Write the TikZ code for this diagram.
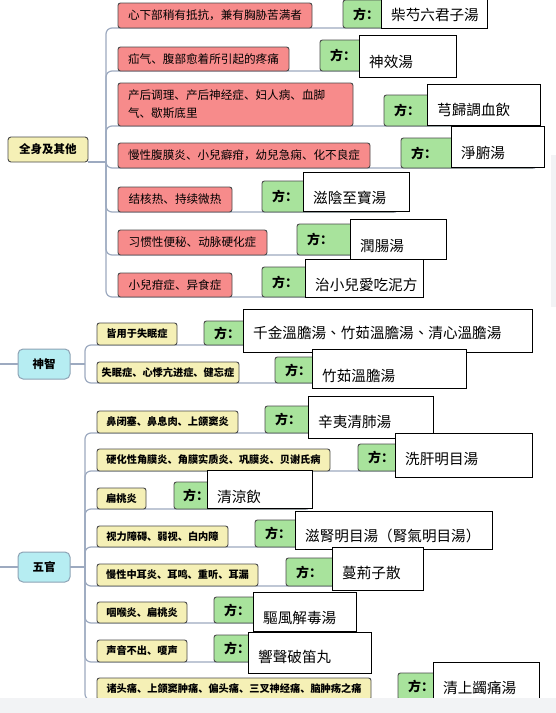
\documentclass[tikz,border=0pt]{standalone}
\usepackage{fontspec}
\setmainfont{Noto Sans CJK SC}
\newfontfamily\tcfont{Noto Sans CJK TC}
\definecolor{redfill}{HTML}{F78B8B}
\definecolor{yelfill}{HTML}{F5F0B6}
\definecolor{grnfill}{HTML}{A8E39C}
\definecolor{cyanfill}{HTML}{B6EDF2}
\definecolor{boxline}{HTML}{4A4A4A}
\definecolor{branchline}{HTML}{9DAAC0}
\definecolor{cyanline}{HTML}{8EA3B5}
\definecolor{stripgrey}{HTML}{F2F3F5}
\pgfdeclarelayer{background}
\pgfsetlayers{background,main}
\tikzset{
  basebox/.style={anchor=north west, inner sep=0pt, outer sep=0pt, line width=0.9pt},
  redbox/.style={basebox, draw=boxline, fill=redfill, rounded corners=2.5pt, font=\fontsize{11.6}{14}\selectfont},
  yelbox/.style={basebox, draw=boxline, fill=yelfill, rounded corners=2.5pt, font=\bfseries\fontsize{10.2}{12}\selectfont},
  fangbox/.style={basebox, draw=boxline, fill=grnfill, rounded corners=2.5pt, minimum width=134pt},
  fangtext/.style={anchor=west, inner sep=0pt, xshift=10pt, font=\bfseries\fontsize{13}{15}\selectfont},
  whitebox/.style={basebox, draw=black, fill=white},
  whitetext/.style={anchor=west, inner sep=0pt, font=\tcfont\fontsize{14.6}{16}\selectfont},
  rootyel/.style={basebox, draw=boxline, fill=yelfill, rounded corners=3pt, font=\bfseries\fontsize{11.5}{14}\selectfont},
  rootcyan/.style={basebox, draw=cyanline, fill=cyanfill, rounded corners=5pt, line width=1pt, font=\bfseries\fontsize{11.5}{14}\selectfont},
  branch/.style={draw=branchline, line width=1.2pt, rounded corners=6pt},
}
\begin{document}
\begin{tikzpicture}[x=1pt,y=-1pt]
\useasboundingbox (0,0) rectangle (556,713);
\clip (0,0) rectangle (556,713);
\begin{pgfonlayer}{background}
\fill[white] (0,0) rectangle (556,713);
\end{pgfonlayer}

% ===== 全身及其他 =====
\node[rootyel, minimum width=80pt, minimum height=25pt] (qs) at (8,137) {全身及其他};
\coordinate (jq) at (106,162);
\draw[branch] (qs.south east) -- (jq);

% row 1
\node[redbox, minimum width=194pt, minimum height=25pt] (q1r) at (118,3) {心下部稍有抵抗，兼有胸胁苦满者};
\node[fangbox, minimum height=28pt] (q1g) at (343,0) {};
\node[fangtext] (q1f) at (q1g.west) {方：};
\node[whitebox, minimum width=106pt, minimum height=30pt] (q1w) at (381,-2) {};
\node[whitetext] (q1t) at (391,15) {柴芍六君子湯};

% row 2
\node[redbox, minimum width=171pt, minimum height=24pt] (q2r) at (118,47) {疝气、腹部愈着所引起的疼痛};
\node[fangbox, minimum height=31pt] (q2g) at (320,40) {};
\node[fangtext] (q2f) at (q2g.west) {方：};
\node[whitebox, minimum width=97pt, minimum height=42pt] (q2w) at (359,35) {};
\node[whitetext] (q2t) at (369,62) {神效湯};

% row 3
\node[redbox, minimum width=235pt, minimum height=43pt, text width=215pt, inner xsep=10pt, align=left, font=\fontsize{11.6}{18}\selectfont] (q3r) at (118,83) {产后调理、产后神经症、妇人病、血脚\\气、歇斯底里};
\node[fangbox, minimum height=31pt] (q3g) at (384,95) {};
\node[fangtext] (q3f) at (q3g.west) {方：};
\node[whitebox, minimum width=113pt, minimum height=41pt] (q3w) at (427,84) {};
\node[whitetext] (q3t) at (437,110) {芎歸調血飲};

% row 4
\node[redbox, minimum width=252pt, minimum height=25pt] (q4r) at (118,143) {慢性腹膜炎、小兒癖疳，幼兒急痫、化不良症};
\node[fangbox, minimum height=30pt] (q4g) at (401,138) {};
\node[fangtext] (q4f) at (q4g.west) {方：};
\node[whitebox, minimum width=93pt, minimum height=41pt] (q4w) at (451,126) {};
\node[whitetext] (q4t) at (461,153) {淨腑湯};

% row 5
\node[redbox, minimum width=114pt, minimum height=25pt] (q5r) at (118,187) {结核热、持续微热};
\node[fangbox, minimum height=31pt] (q5g) at (262,181) {};
\node[fangtext] (q5f) at (q5g.west) {方：};
\node[whitebox, minimum width=106pt, minimum height=39pt] (q5w) at (303,172) {};
\node[whitetext] (q5t) at (313,198) {滋陰至寶湯};

% row 6
\node[redbox, minimum width=149pt, minimum height=25pt] (q6r) at (118,230) {习惯性便秘、动脉硬化症};
\node[fangbox, minimum height=31pt] (q6g) at (297,224) {};
\node[fangtext] (q6f) at (q6g.west) {方：};
\node[whitebox, minimum width=96pt, minimum height=40pt] (q6w) at (350,219) {};
\node[whitetext] (q6t) at (360,246) {潤腸湯};

% row 7
\node[redbox, minimum width=114pt, minimum height=24pt] (q7r) at (118,273) {小兒疳症、异食症};
\node[fangbox, minimum height=30pt] (q7g) at (262,267) {};
\node[fangtext] (q7f) at (q7g.west) {方：};
\node[whitebox, minimum width=118pt, minimum height=38pt] (q7w) at (305,259) {};
\node[whitetext] (q7t) at (315,285) {治小兒愛吃泥方};

\begin{pgfonlayer}{background}
\foreach \g in {q1g,q2g,q3g,q4g,q5g,q6g,q7g}
  \draw[branch] (jq) |- (\g.south east);
\end{pgfonlayer}

% right strip
\fill[stripgrey] (550.5,155) rectangle (556,307);

% ===== 神智 =====
\node[rootcyan, minimum width=52pt, minimum height=30pt] (sz) at (18,349) {神智};
\coordinate (sl) at (0,364);
\coordinate (js) at (85,364);
\draw[branch] (sl) -- (sz.west);
\draw[branch] (sz.east) -- (js);

\node[yelbox, minimum width=80pt, minimum height=22pt] (s1r) at (97,323) {皆用于失眠症};
\node[fangbox, minimum height=24pt] (s1g) at (204,321) {};
\node[fangtext] (s1f) at (s1g.west) {方：};
\node[whitebox, minimum width=289pt, minimum height=43pt] (s1w) at (243,309) {};
\node[whitetext] (s1t) at (253,333) {千金溫膽湯、竹茹溫膽湯、清心溫膽湯};

\node[yelbox, minimum width=142pt, minimum height=21pt] (s2r) at (97,362) {失眠症、心悸亢进症、健忘症};
\node[fangbox, minimum height=26pt] (s2g) at (275,357) {};
\node[fangtext] (s2f) at (s2g.west) {方：};
\node[whitebox, minimum width=154pt, minimum height=39pt] (s2w) at (312,349) {};
\node[whitetext] (s2t) at (322,376) {竹茹溫膽湯};

\begin{pgfonlayer}{background}
\foreach \g in {s1g,s2g}
  \draw[branch] (js) |- (\g.south east);
\end{pgfonlayer}

% ===== 五官 =====
\node[rootcyan, minimum width=52pt, minimum height=30pt] (wg) at (18,552) {五官};
\coordinate (wl) at (0,567);
\coordinate (jw) at (85,567);
\draw[branch] (wl) -- (wg.west);
\draw[branch] (wg.east) -- (jw);

% 1
\node[yelbox, minimum width=141pt, minimum height=22pt] (w1r) at (97,411) {鼻闭塞、鼻息肉、上颌窦炎};
\node[fangbox, minimum height=27pt] (w1g) at (265,406) {};
\node[fangtext] (w1f) at (w1g.west) {方：};
\node[whitebox, minimum width=125pt, minimum height=42pt] (w1w) at (308,396) {};
\node[whitetext] (w1t) at (318,422) {辛夷清肺湯};

% 2
\node[yelbox, minimum width=233pt, minimum height=22pt] (w2r) at (97,449) {硬化性角膜炎、角膜实质炎、巩膜炎、贝谢氏病};
\node[fangbox, minimum height=27pt] (w2g) at (358,444) {};
\node[fangtext] (w2f) at (w2g.west) {方：};
\node[whitebox, minimum width=137pt, minimum height=44pt] (w2w) at (395,433) {};
\node[whitetext] (w2t) at (405,459) {洗肝明目湯};

% 3
\node[yelbox, minimum width=49pt, minimum height=21pt] (w3r) at (97,488) {扁桃炎};
\node[fangbox, minimum height=27pt] (w3g) at (174,482) {};
\node[fangtext, xshift=-1pt] (w3f) at (w3g.west) {方：};
\node[whitebox, minimum width=105pt, minimum height=38pt] (w3w) at (207,470) {};
\node[whitetext] (w3t) at (217,497) {清涼飲};

% 4
\node[yelbox, minimum width=131pt, minimum height=21pt] (w4r) at (97,526) {视力障碍、弱视、白内障};
\node[fangbox, minimum height=27pt] (w4g) at (255,520) {};
\node[fangtext] (w4f) at (w4g.west) {方：};
\node[whitebox, minimum width=197pt, minimum height=38pt] (w4w) at (295,511) {};
\node[whitetext] (w4t) at (305,536) {滋腎明目湯（腎氣明目湯）};

% 5
\node[yelbox, minimum width=161pt, minimum height=22pt] (w5r) at (97,564) {慢性中耳炎、耳鸣、重听、耳漏};
\node[fangbox, minimum height=28pt] (w5g) at (286,558) {};
\node[fangtext] (w5f) at (w5g.west) {方：};
\node[whitebox, minimum width=91pt, minimum height=43pt] (w5w) at (332,547) {};
\node[whitetext] (w5t) at (342,573) {蔓荊子散};

% 6
\node[yelbox, minimum width=90pt, minimum height=21pt] (w6r) at (97,602) {咽喉炎、扁桃炎};
\node[fangbox, minimum height=26pt] (w6g) at (214,597) {};
\node[fangtext] (w6f) at (w6g.west) {方：};
\node[whitebox, minimum width=103pt, minimum height=39pt] (w6w) at (253,592) {};
\node[whitetext] (w6t) at (263,618) {驅風解毒湯};

% 7
\node[yelbox, minimum width=90pt, minimum height=22pt] (w7r) at (97,640) {声音不出、嗄声};
\node[fangbox, minimum height=27pt] (w7g) at (214,635) {};
\node[fangtext] (w7f) at (w7g.west) {方：};
\node[whitebox, minimum width=123pt, minimum height=41pt] (w7w) at (248,632) {};
\node[whitetext] (w7t) at (258,657) {響聲破笛丸};

% 8
\node[yelbox, minimum width=274pt, minimum height=22pt] (w8r) at (97,678) {诸头痛、上颌窦肿痛、偏头痛、三叉神经痛、脑肿疡之痛};
\node[fangbox, minimum height=27pt] (w8g) at (398,673) {};
\node[fangtext] (w8f) at (w8g.west) {方：};
\node[whitebox, minimum width=106pt, minimum height=45pt] (w8w) at (433,662) {};
\node[whitetext] (w8t) at (443,688) {清上蠲痛湯};

\begin{pgfonlayer}{background}
\foreach \g in {w1g,w2g,w3g,w4g,w5g,w6g,w7g,w8g}
  \draw[branch] (jw) |- (\g.south east);
\end{pgfonlayer}

% bottom strip
\fill[stripgrey] (0,698) rectangle (556,713);
\end{tikzpicture}
\end{document}
